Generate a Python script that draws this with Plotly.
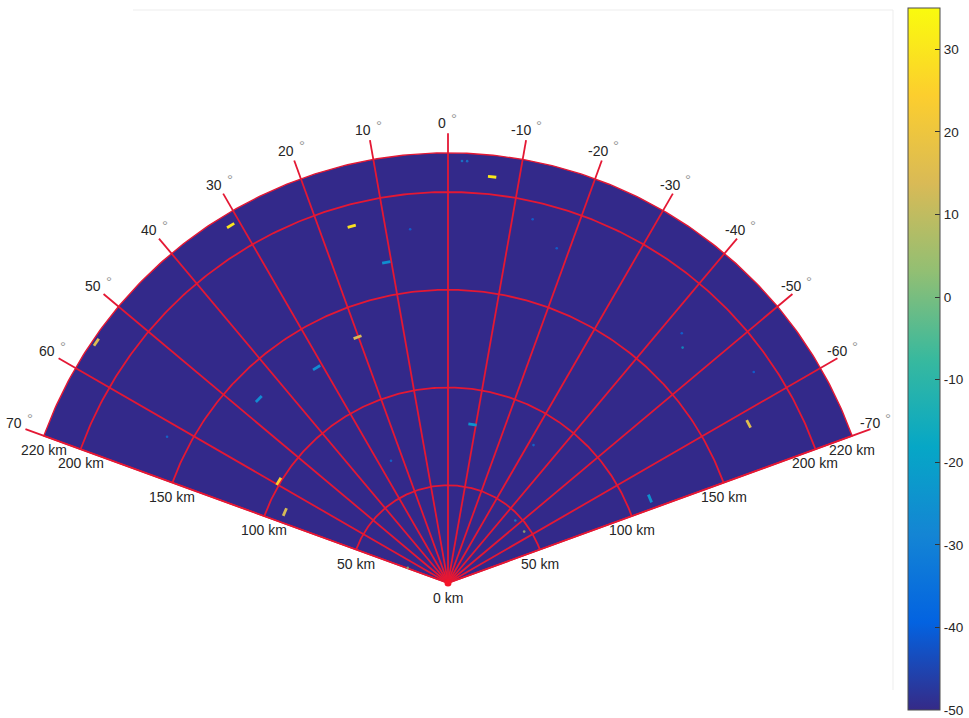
import numpy as np
import plotly.graph_objects as go

# Sweep geometry: azimuth in degrees from boresight (positive to the left), range in km
azimuth_ticks = [70, 60, 50, 40, 30, 20, 10, 0, -10, -20, -30, -40, -50, -60, -70]
range_rings = [50, 100, 150, 200]
range_label_values = [50, 100, 150, 200, 220]
max_range = 220
spoke_length = 230
azimuth_label_radius = 233

# Echo cells: azimuth (deg), range (km), reflectivity (dBZ)
echo_az = [-6.2, 15.1, 31.3, 10.9, 20.2, 31.4, 45.8, 55.6, 59.0, 66.5,
           -8.8, -62.1, -67.3]
echo_rng = [209, 189, 214, 167, 134, 129, 135, 218, 101, 91,
            82, 174, 112]
echo_dbz = [31, 29, 30, -26, 14, -27, -27, 15, 24, 13,
            -24, 16, -25]

# Isolated returns (single gates)
gate_az = [-47.1, -56.0, 69.4, -1.9, -2.6, -13.1, -18.0, -44.9, -43.1, -31.8,
           25.0, 6.1, 62.5, -55.4]
gate_rng = [47, 47, 22, 216, 216, 191, 180, 170, 175, 83,
            69, 182, 162, 190]
gate_dbz = [-25, 6, 2, -28, -30, -36, -36, -20, -36, -34,
            -34, -36, -34, -36]

cbar_ticks = [-50, -40, -30, -20, -10, 0, 10, 20, 30]
cmin, cmax = -50, 35

parula = [
    [0.000, "#352a87"], [0.125, "#0363e1"], [0.250, "#1485d4"],
    [0.375, "#06a7c6"], [0.500, "#38b99e"], [0.625, "#92bf73"],
    [0.750, "#d9ba56"], [0.875, "#fcce2e"], [1.000, "#f9fb0e"],
]

GRID = "rgb(228,24,52)"
TEXT = "#262626"
FONT = "Liberation Sans, Arial, sans-serif"
LABEL_SIZE = 14


def to_xy(az_deg, r):
    a = np.radians(np.asarray(az_deg, dtype=float))
    r = np.asarray(r, dtype=float)
    return -r * np.sin(a), r * np.cos(a)


def text_width(s, size=LABEL_SIZE):
    # Approximate advance widths for Arial-metric digits and hyphen
    return sum((0.333 if ch == "-" else 0.556) for ch in s) * size


fig = go.Figure()

# Sector background at the floor value of the colour scale
arc = np.linspace(azimuth_ticks[0], azimuth_ticks[-1], 281)
fx, fy = to_xy(arc, np.full_like(arc, max_range))
fig.add_trace(go.Scatter(
    x=np.concatenate([[0], fx, [0]]), y=np.concatenate([[0], fy, [0]]),
    mode="lines", fill="toself", fillcolor="#33298a",
    line=dict(color=GRID, width=1.4), hoverinfo="skip", showlegend=False))

# Range rings
rx, ry = [], []
for rr in range_rings:
    x, y = to_xy(arc, np.full_like(arc, rr))
    rx += list(x) + [None]
    ry += list(y) + [None]
fig.add_trace(go.Scatter(x=rx, y=ry, mode="lines",
                         line=dict(color=GRID, width=1.8),
                         hoverinfo="skip", showlegend=False))

# Azimuth spokes
sx, sy = [], []
for az in azimuth_ticks:
    x, y = to_xy([az, az], [0, spoke_length])
    sx += list(x) + [None]
    sy += list(y) + [None]
fig.add_trace(go.Scatter(x=sx, y=sy, mode="lines",
                         line=dict(color=GRID, width=1.8),
                         hoverinfo="skip", showlegend=False))

# Radar apex
fig.add_trace(go.Scatter(x=[0], y=[0], mode="markers", hoverinfo="skip",
                         showlegend=False,
                         marker=dict(symbol="circle", size=7, color="rgb(245,20,40)")))

# Echoes, drawn as short arcs along azimuth
ex, ey = to_xy(echo_az, echo_rng)
fig.add_trace(go.Scatter(
    x=ex, y=ey, mode="markers", hoverinfo="skip", showlegend=False,
    marker=dict(symbol="line-ew", size=6, angle=[-a for a in echo_az],
                color=echo_dbz, coloraxis="coloraxis",
                line=dict(width=2.8, color=echo_dbz, coloraxis="coloraxis"))))

gx, gy = to_xy(gate_az, gate_rng)
fig.add_trace(go.Scatter(
    x=gx, y=gy, mode="markers", hoverinfo="skip", showlegend=False,
    marker=dict(symbol="circle", size=2.6, color=gate_dbz, coloraxis="coloraxis",
                opacity=0.75, line=dict(width=0))))

annotations = []
# Azimuth labels: "<number> °" centred on the label radius
for az in azimuth_ticks:
    x, y = to_xy(az, azimuth_label_radius)
    wn = text_width(str(az))
    annotations.append(dict(
        x=float(x), y=float(y), xref="x", yref="y", showarrow=False,
        xanchor="right", yanchor="middle", xshift=wn / 2 - 4, yshift=4,
        text=f"{az}", font=dict(family=FONT, size=LABEL_SIZE, color=TEXT)))
    annotations.append(dict(
        x=float(x), y=float(y), xref="x", yref="y", showarrow=False,
        xanchor="center", yanchor="middle", xshift=wn / 2 + 2, yshift=9,
        text="°", font=dict(family=FONT, size=15, color="#999999")))

# Range labels along both sector edges
for edge in (azimuth_ticks[0], azimuth_ticks[-1]):
    for rr in range_label_values:
        x, y = to_xy(edge, rr)
        annotations.append(dict(
            x=float(x), y=float(y), xref="x", yref="y", showarrow=False,
            xanchor="center", yanchor="middle", yshift=-14,
            text=f"{rr} km", font=dict(family=FONT, size=LABEL_SIZE, color=TEXT)))
annotations.append(dict(x=0, y=0, xref="x", yref="y", showarrow=False,
                        xanchor="center", yanchor="middle", yshift=-15,
                        text="0 km", font=dict(family=FONT, size=LABEL_SIZE, color=TEXT)))

# Pixel scale: 1.955 px per km, sector apex at (448, 583) in a 969x718 page
W, H = 969, 718
scale = 1.955
cx, cy = 448, 583
plot_w = 891
xr = [(0 - cx) / scale, (plot_w - cx) / scale]
yr = [(cy - H) / scale, cy / scale]

fig.update_layout(
    width=W, height=H,
    margin=dict(l=0, r=0, t=0, b=0),
    paper_bgcolor="white", plot_bgcolor="white",
    xaxis=dict(range=xr, domain=[0, plot_w / W], visible=False, fixedrange=True),
    yaxis=dict(range=yr, domain=[0, 1], visible=False, fixedrange=True),
    coloraxis=dict(
        colorscale=parula, cmin=cmin, cmax=cmax,
        colorbar=dict(
            x=908 / W, xanchor="left", y=1 - 8 / H, yanchor="top",
            len=702 / H, lenmode="fraction", thickness=32, thicknessmode="pixels",
            xpad=0, ypad=0, outlinewidth=1, outlinecolor="#4d4d4d",
            tickvals=cbar_ticks, ticktext=[str(v) for v in cbar_ticks],
            ticks="inside", ticklen=5, tickcolor="#333333",
            tickfont=dict(family=FONT, size=13.5, color=TEXT))),
    annotations=annotations,
    shapes=[
        dict(type="line", xref="paper", yref="paper", x0=133 / W, x1=893 / W,
             y0=1 - 10 / H, y1=1 - 10 / H, line=dict(color="#ededed", width=1)),
        dict(type="line", xref="paper", yref="paper", x0=893 / W, x1=893 / W,
             y0=1 - 10 / H, y1=1 - 690 / H, line=dict(color="#ededed", width=1)),
    ],
)

fig.write_html("out.html")
